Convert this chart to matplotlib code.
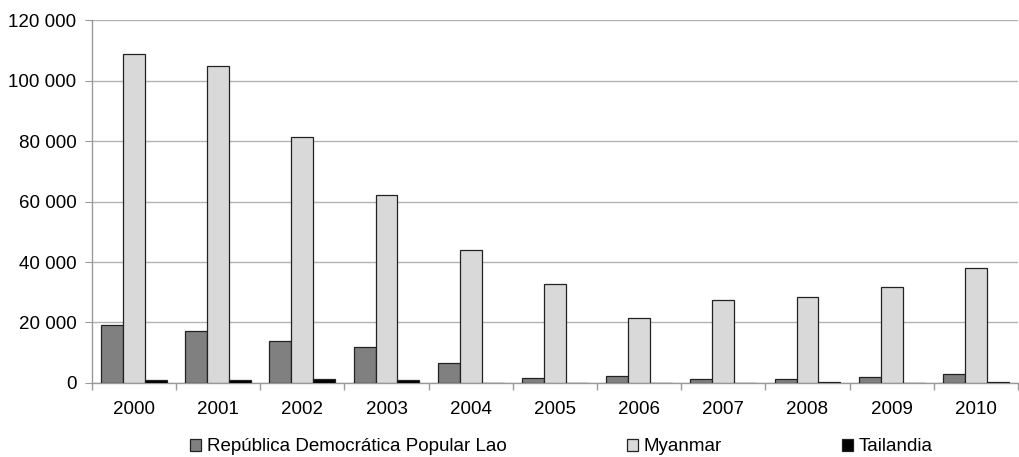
import numpy as np
import matplotlib.pyplot as plt
from matplotlib.ticker import FuncFormatter

years = ['2000', '2001', '2002', '2003', '2004', '2005', '2006', '2007', '2008', '2009', '2010']
lao = [19100, 17300, 14000, 12000, 6500, 1800, 2300, 1300, 1300, 1900, 2900]
myanmar = [108700, 104800, 81400, 62100, 44000, 32700, 21400, 27500, 28500, 31800, 38000]
tailandia = [1000, 900, 1400, 1000, 0, 0, 0, 0, 400, 0, 400]

series = [('República Democrática Popular Lao', lao, '#808080'),
          ('Myanmar', myanmar, '#d9d9d9'),
          ('Tailandia', tailandia, '#000000')]

plt.rcParams['font.family'] = ['Liberation Sans', 'DejaVu Sans']
fs = 13.5

fig = plt.figure(figsize=(10.2, 4.57), dpi=100)
ax = fig.add_axes([0.090, 0.162, 0.908, 0.794])

x = np.arange(len(years))
w = 0.26
for i, (name, vals, col) in enumerate(series):
    ax.bar(x + (i - 1) * w, vals, w, color=col, edgecolor='#222222',
           linewidth=0.9, label=name, zorder=3)

ax.set_ylim(0, 120000)
ax.set_xlim(-0.5, len(years) - 0.5)
ax.set_yticks(np.arange(0, 120001, 20000))
ax.yaxis.set_major_formatter(FuncFormatter(lambda v, p: f'{int(v):,}'.replace(',', ' ')))
ax.yaxis.grid(True, color='#b3b3b3', linewidth=1.0, zorder=0)

ax.set_xticks(x)
ax.set_xticklabels(years)
ax.set_xticks(np.arange(-0.5, len(years)), minor=True)
ax.tick_params(axis='x', which='major', length=0, pad=13, labelsize=fs)
ax.tick_params(axis='x', which='minor', length=5, color='#999999', width=1)
ax.tick_params(axis='y', length=5, color='#999999', labelsize=fs, pad=6)

for s in ['top', 'right']:
    ax.spines[s].set_visible(False)
for s in ['left', 'bottom']:
    ax.spines[s].set_color('#999999')
    ax.spines[s].set_linewidth(1)

handles, labels = ax.get_legend_handles_labels()
fig.legend(handles, labels, loc='center', bbox_to_anchor=(0.5505, 0.022), ncol=3,
           frameon=False, fontsize=fs, handlelength=0.6, handleheight=0.6,
           handletextpad=0.3, columnspacing=6.4, borderpad=0)

fig.savefig('out.png', dpi=100)
